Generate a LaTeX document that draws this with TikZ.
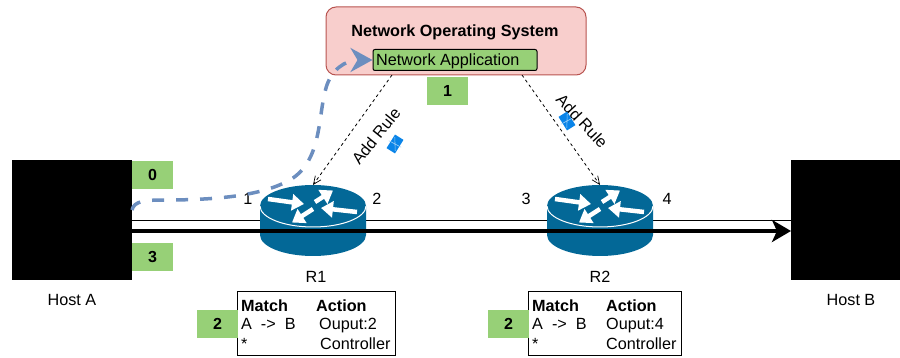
\documentclass[tikz,border=0pt]{standalone}
\usepackage{fontspec}
\setmainfont{Liberation Sans}
\usetikzlibrary{arrows.meta}
\definecolor{ciscob}{HTML}{036897}
\definecolor{badge}{HTML}{97D077}
\definecolor{flow}{HTML}{6C8EBF}
\definecolor{mailb}{HTML}{0A84E8}
\definecolor{nosfill}{HTML}{F8CECC}
\definecolor{nosline}{HTML}{B85450}
\tikzset{
  host/.style={fill=black,draw=none,inner sep=0pt,minimum width=120pt,minimum height=120pt},
  tag/.style={fill=badge,draw=none,inner sep=0pt,minimum width=41pt,minimum height=28pt,font=\fontsize{16}{18}\selectfont\bfseries},
  lbl/.style={inner sep=0pt,font=\fontsize{16.2}{18}\selectfont},
  cell/.style={lbl,anchor=base west},
  cellb/.style={inner sep=0pt,anchor=base west,font=\fontsize{16.2}{18}\selectfont\bfseries},
  tablebox/.style={draw=black,line width=1pt,fill=white,inner sep=0pt,minimum height=63pt},
  ctrl/.style={draw=black,line width=0.8pt,dash pattern=on 3pt off 3pt,-{Straight Barb[length=8pt,width=7pt,line width=0.7pt]}},
  rarrow/.style={draw=white,line width=4.5pt,-{Triangle[length=12pt,width=16pt]}},
  routerbox/.style={inner sep=0pt,minimum width=106pt,minimum height=71pt},
  mail/.style={fill=mailb,draw=none,inner sep=0pt,minimum width=16pt,minimum height=10pt}
}
\newcommand{\routerart}[1]{%
  \begin{scope}[shift={(#1,206)}]
    \fill[ciscob] (-53,0) -- (-53,29) arc[start angle=180,end angle=360,x radius=53pt,y radius=21pt] -- (53,0) arc[start angle=0,end angle=180,x radius=53pt,y radius=21pt] -- cycle;
    \draw[white,line width=1pt] (-53,0) arc[start angle=180,end angle=360,x radius=53pt,y radius=21pt];
    \draw[rarrow] (-45,-7) -- (-9,-2);
    \draw[rarrow] (2,-4) -- (20,-15.5);
    \draw[rarrow] (44,6) -- (8,2);
    \draw[rarrow] (0,3) -- (-21,16.5);
  \end{scope}}
\newcommand{\mailcross}[3]{%
  \begin{scope}[shift={(#1,#2)},rotate=#3]
    \draw[white!60!mailb,line width=0.6pt] (-6,-3.5) -- (6,3.5) (-6,3.5) -- (6,-3.5);
  \end{scope}}
\begin{document}
\begin{tikzpicture}[x=1pt,y=-1pt]
\useasboundingbox (0,0) rectangle (900,358);
% hosts
\node[host] (hosta) at (72,220) {};
\node[host,anchor=west] (hostb) at (791,220) {};
\node[lbl] (hostal) at (72,300) {Host A};
\node[lbl] (hostbl) at (851,300) {Host B};
% links and routers
\coordinate (thinA) at (132,221);
\coordinate (thinB) at (791,221);
\coordinate (thickA) at (132,231);
\coordinate (thickB) at (791,231);
\draw[black,line width=1pt] (thinA) -- (thinB);
\routerart{313}
\routerart{600}
\node[routerbox] (r1) at (313,220.5) {};
\node[routerbox] (r2) at (600,220.5) {};
\draw[black,line width=4pt,-{Stealth[length=19pt,width=22pt,inset=5pt]}] (thickA) -- (thickB);
% badges
\node[tag] (b0) at (152.5,175) {0};
\node[tag] (b3) at (152.5,257) {3};
\node[tag] (b1) at (447.5,91) {1};
% port labels
\node[lbl] (p1) at (248,199) {1};
\node[lbl] (p2) at (377,199) {2};
\node[lbl] (p3) at (526,199) {3};
\node[lbl] (p4) at (667,199) {4};
\node[lbl] (r1l) at (316,277) {R1};
\node[lbl] (r2l) at (600,277) {R2};
% network operating system
\node[draw=nosline,fill=nosfill,line width=1pt,rounded corners=10pt,inner sep=0pt,minimum width=260pt,minimum height=68pt] (nos) at (456,41) {};
\node[inner sep=0pt,font=\fontsize{16.2}{18}\selectfont\bfseries] (nost) at (455,32) {Network Operating System};
\node[draw=black,fill=badge,line width=1pt,rounded corners=2pt,inner sep=0pt,minimum width=164pt,minimum height=21pt] (app) at (455,60) {};
\node[cell] (appt) at (376,65.5) {Network Application};
% control connectors
\coordinate (n1) at (392,75);
\coordinate (n2) at (522,75);
\coordinate (r1top) at (313,185);
\coordinate (r2top) at (600,185);
\draw[ctrl] (n1) -- (r1top);
\draw[ctrl] (n2) -- (r2top);
\node[lbl,rotate=51] (add1) at (376,136) {Add Rule};
\node[lbl,rotate=-47] (add2) at (582,121) {Add Rule};
\node[mail,rotate=58] (m1) at (395,144) {};
\mailcross{395}{144}{-58}
\node[mail,rotate=-58] (m2) at (567,121) {};
\mailcross{567}{121}{58}
% packet-in flow
\coordinate (f0) at (132,210);
\draw[flow,line width=3.5pt,dash pattern=on 12pt off 12pt,-{Stealth[length=22pt,width=24pt,inset=7pt]}]
  (f0) .. controls (134,201) and (145,200) .. (165,200)
  .. controls (215,200) and (265,196) .. (293,178)
  .. controls (322,158) and (318,115) .. (326,88)
  .. controls (331,70) and (345,60) .. (app.west);
% tables
\node[tablebox,minimum width=158pt] (t1) at (316,323.5) {};
\node[tag] (s1) at (217.5,324) {2};
\node[cellb] (t1a) at (241,311) {Match};
\node[cellb] (t1b) at (316,311) {Action};
\node[cell] (t1c) at (241,330) {A\ \ ->\ \ B};
\node[cell] (t1d) at (319,330) {Ouput:2};
\node[cell] (t1e) at (241,349) {*};
\node[cell] (t1f) at (320,349) {Controller};
\node[tablebox,minimum width=153pt] (t2) at (604.5,323.5) {};
\node[tag] (s2) at (508.5,324) {2};
\node[cellb] (t2a) at (532,311) {Match};
\node[cellb] (t2b) at (606,311) {Action};
\node[cell] (t2c) at (532,330) {A\ \ ->\ \ B};
\node[cell] (t2d) at (606,330) {Ouput:4};
\node[cell] (t2e) at (532,349) {*};
\node[cell] (t2f) at (606,349) {Controller};
\end{tikzpicture}
\end{document}
